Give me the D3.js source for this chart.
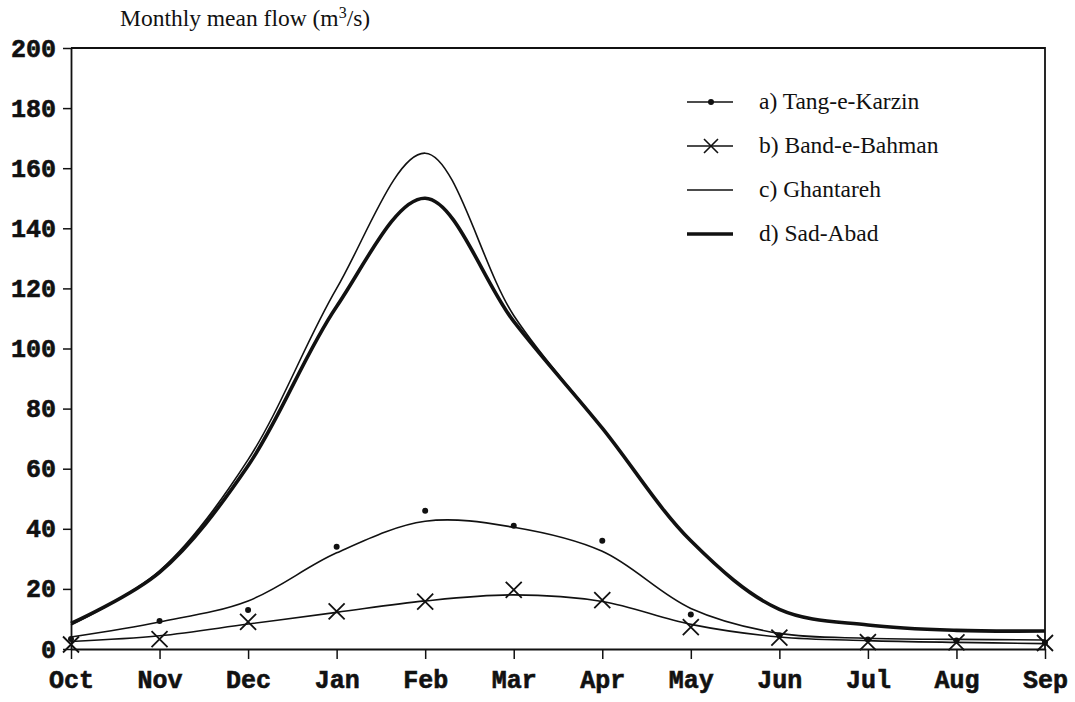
<!DOCTYPE html>
<html>
<head>
<meta charset="utf-8">
<script src="https://cdn.jsdelivr.net/npm/d3@7"></script>
<style>
  html, body { margin: 0; padding: 0; background: #fff; }
  svg { display: block; }
</style>
</head>
<body>
<svg id="chart" width="1075" height="702"></svg>
<script>
// Months of the water year (Oct–Sep)
const months = ["Oct","Nov","Dec","Jan","Feb","Mar","Apr","May","Jun","Jul","Aug","Sep"];
const yTicks = [0,20,40,60,80,100,120,140,160,180,200];

// a) Tang-e-Karzin: observed monthly means and smoothed curve
const tangObserved = [3.3, 9.3, 13, 34, 46, 41, 36, 11.5, 4.5, 3.2, 2.8, 2.2];
const tangCurve    = [4, 9, 16, 32, 42.5, 40.5, 32.5, 13.5, 5.2, 3.6, 3.2, 3.0];
// b) Band-e-Bahman: observed monthly means and smoothed curve
const bahmanObserved = [1.5, 3.3, 9, 12.5, 15.8, 19.7, 16.3, 7.3, 3.8, 2.3, 2.2, 2.0];
const bahmanCurve    = [2.5, 4.4, 8.3, 12.2, 16, 18, 15.8, 8.2, 4.0, 2.8, 2.2, 1.8];
// c) Ghantareh
const ghantareh = [8, 26, 63, 120, 165, 111, 73.5, 36, 13.2, 8, 6.2, 6.0];
// d) Sad-Abad
const sadAbad   = [8.5, 25.5, 61, 114, 150, 109, 73.5, 36, 13.2, 8, 6.2, 6.0];

const svg = d3.select("#chart");
const mLeft = 71, mRight = 1045, mTop = 48, mBottom = 649;

const x = d3.scalePoint().domain(months).range([mLeft, mRight]);
const y = d3.scaleLinear().domain([0, 200]).range([mBottom, mTop]);

const tickFont = "'Liberation Mono', 'Courier New', monospace";
const textFont = "'Liberation Serif', 'Times New Roman', serif";

// Frame (top and right sides)
svg.append("path")
  .attr("d", `M${mLeft},${mTop}H${mRight}V${mBottom}`)
  .attr("fill", "none").attr("stroke", "#111").attr("stroke-width", 1.8);

function styleTicks(sel) {
  sel.attr("font-family", tickFont).attr("font-weight", "bold")
    .attr("font-size", 25).attr("fill", "#111")
    .attr("stroke", "#111").attr("stroke-width", 0.6);
}

// Y axis
const yAxis = svg.append("g")
  .attr("transform", `translate(${mLeft},0)`)
  .call(d3.axisLeft(y).tickValues(yTicks).tickSize(8).tickPadding(7).tickSizeOuter(0));
yAxis.select(".domain").attr("stroke", "#111").attr("stroke-width", 1.8);
yAxis.selectAll(".tick line").attr("stroke", "#111").attr("stroke-width", 1.5);
styleTicks(yAxis.selectAll(".tick text"));

// X axis
const xAxis = svg.append("g")
  .attr("transform", `translate(0,${mBottom})`)
  .call(d3.axisBottom(x).tickSize(10).tickPadding(11).tickSizeOuter(0));
xAxis.select(".domain").attr("stroke", "#111").attr("stroke-width", 1.8);
xAxis.selectAll(".tick line").attr("stroke", "#111").attr("stroke-width", 1.5);
styleTicks(xAxis.selectAll(".tick text"));

// Axis title
const title = svg.append("text")
  .attr("x", 120).attr("y", 26)
  .attr("font-family", textFont).attr("font-size", 23.5).attr("fill", "#111");
title.append("tspan").text("Monthly mean flow (m");
title.append("tspan").attr("dy", -8).attr("font-size", 16).text("3");
title.append("tspan").attr("dy", 8).text("/s)");

// Smooth lines
const line = d3.line()
  .x((d, i) => x(months[i]))
  .y(d => y(d))
  .curve(d3.curveCatmullRom.alpha(0.5));

const g = svg.append("g");
g.append("path").attr("d", line(tangCurve))
  .attr("fill", "none").attr("stroke", "#111").attr("stroke-width", 1.6);
g.append("path").attr("d", line(bahmanCurve))
  .attr("fill", "none").attr("stroke", "#111").attr("stroke-width", 1.6);
g.append("path").attr("d", line(ghantareh))
  .attr("fill", "none").attr("stroke", "#111").attr("stroke-width", 1.6);
g.append("path").attr("d", line(sadAbad))
  .attr("fill", "none").attr("stroke", "#111").attr("stroke-width", 3.6);

// Observed points
g.selectAll("circle.tang").data(tangObserved).join("circle")
  .attr("class", "tang")
  .attr("cx", (d, i) => x(months[i])).attr("cy", d => y(d))
  .attr("r", 3).attr("fill", "#111");

const xs = 8;
g.selectAll("path.bahman").data(bahmanObserved).join("path")
  .attr("class", "bahman")
  .attr("d", (d, i) => {
    const cx = x(months[i]), cy = y(d);
    return `M${cx - xs},${cy - xs}L${cx + xs},${cy + xs}M${cx - xs},${cy + xs}L${cx + xs},${cy - xs}`;
  })
  .attr("stroke", "#111").attr("stroke-width", 1.8).attr("fill", "none");

// Legend
const legendItems = [
  { label: "a) Tang-e-Karzin", width: 1.6, marker: "dot" },
  { label: "b) Band-e-Bahman", width: 1.6, marker: "cross" },
  { label: "c) Ghantareh", width: 1.6, marker: null },
  { label: "d) Sad-Abad", width: 3.6, marker: null }
];
const legend = svg.append("g");
legendItems.forEach((item, i) => {
  const ly = 102 + i * 44;
  const row = legend.append("g").attr("transform", `translate(0,${ly})`);
  row.append("line").attr("x1", 687).attr("x2", 733).attr("y1", 0).attr("y2", 0)
    .attr("stroke", "#111").attr("stroke-width", item.width);
  if (item.marker === "dot") {
    row.append("circle").attr("cx", 711).attr("cy", 0).attr("r", 3).attr("fill", "#111");
  } else if (item.marker === "cross") {
    row.append("path")
      .attr("d", `M${711 - 7},-7L${711 + 7},7M${711 - 7},7L${711 + 7},-7`)
      .attr("stroke", "#111").attr("stroke-width", 1.6);
  }
  row.append("text").attr("x", 759).attr("y", 7)
    .attr("font-family", textFont).attr("font-size", 23.5).attr("fill", "#111")
    .text(item.label);
});
</script>
</body>
</html>
